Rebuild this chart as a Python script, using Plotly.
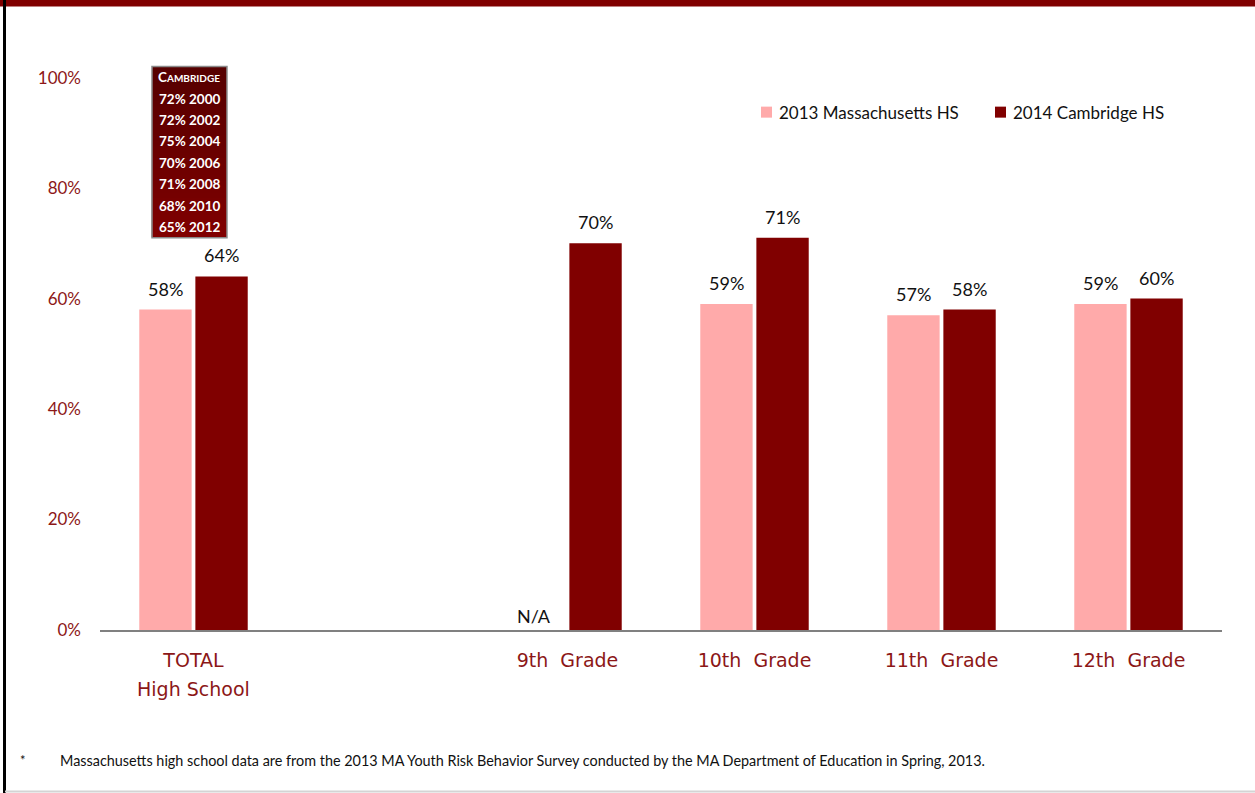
import plotly.graph_objects as go

# Grade groups (position 1 is left empty as a spacer after the total)
group_labels = ["TOTAL", "9th  Grade", "10th  Grade", "11th  Grade", "12th  Grade"]
group_pos = [0, 2, 3, 4, 5]

ma_2013 = [58, None, 59, 57, 59]          # 2013 Massachusetts HS (%)
cam_2014 = [64, 70, 71, 58, 60]           # 2014 Cambridge HS (%)
series_names = ["2013 Massachusetts HS", "2014 Cambridge HS"]

# Earlier Cambridge totals shown in the inset box
hist_years = [2000, 2002, 2004, 2006, 2008, 2010, 2012]
hist_vals = [72, 72, 75, 70, 71, 68, 65]

PINK = "#FFAAAA"
MAROON = "#800000"
TICK_RED = "#8C1717"
FONT = "Lato"

BAR_W = 0.28
OFF_MA = -0.29
OFF_CAM = 0.01

W, H = 1255, 793
Y_MAX = 105
ML, MR, MB = 100, 33, 163
MT = (H - MB) - 5.52 * Y_MAX
PW, PH = W - ML - MR, H - MT - MB


def px_x(p):
    return (p - ML) / PW


def px_y(p):
    return (H - MB - p) / PH


fig = go.Figure()
for vals, name, color, off in ((ma_2013, series_names[0], PINK, OFF_MA),
                               (cam_2014, series_names[1], MAROON, OFF_CAM)):
    fig.add_trace(go.Bar(
        x=group_pos, y=vals, name=name,
        marker=dict(color=color, line=dict(width=0)),
        width=BAR_W, offset=off, hovertemplate="%{y}%<extra>" + name + "</extra>",
        showlegend=False,
    ))

annotations = []
# value labels above the bars
for series, off in ((ma_2013, OFF_MA), (cam_2014, OFF_CAM)):
    for xp, v in zip(group_pos, series):
        if v is None:
            annotations.append(dict(
                x=xp + off + BAR_W / 2, y=0, xref="x", yref="y", text="N/A",
                showarrow=False, yanchor="bottom", yshift=1, xshift=-5,
                font=dict(family=FONT, size=18, color="#111111"),
            ))
        else:
            annotations.append(dict(
                x=xp + off + BAR_W / 2, y=v, xref="x", yref="y", text=f"{v}%",
                showarrow=False, yanchor="bottom", yshift=8,
                font=dict(family=FONT, size=18, color="#111111"),
            ))

# second line of the first category label
annotations.append(dict(
    x=group_pos[0], y=px_y(689), xref="x", yref="paper", text="High School",
    showarrow=False, yanchor="middle",
    font=dict(family="DejaVu Sans", size=19, color=TICK_RED),
))

shapes = []
# inset box with a dark-to-maroon vertical gradient
box_x0, box_x1 = -0.222, 0.179
box_y0, box_y1 = 71.0, 102.0
n_strips = 30
for i in range(n_strips):
    t = i / (n_strips - 1)
    r = int(0x56 + (0x80 - 0x56) * t)
    y_top = box_y1 - (box_y1 - box_y0) * i / n_strips
    shapes.append(dict(
        type="rect", xref="x", yref="y", x0=box_x0, x1=box_x1,
        y0=box_y0, y1=y_top, fillcolor=f"rgb({r},0,0)",
        line=dict(width=0), layer="above",
    ))
shapes.append(dict(
    type="rect", xref="x", yref="y", x0=box_x0, x1=box_x1, y0=box_y0, y1=box_y1,
    fillcolor="rgba(0,0,0,0)", line=dict(color="#8a8a8a", width=1.5), layer="above",
))

box_cx = (box_x0 + box_x1) / 2
box_lines = ["C<span style=\"font-size:10px\">AMBRIDGE</span>"] + [
    f"{v}% {yr}" for v, yr in zip(hist_vals, hist_years)
]
line_step = (box_y1 - box_y0) / len(box_lines)
for i, txt in enumerate(box_lines):
    annotations.append(dict(
        x=box_cx, y=box_y1 - line_step * (i + 0.5), xref="x", yref="y",
        text=f"<b>{txt}</b>", showarrow=False,
        font=dict(family=FONT, size=13.5, color="white"),
    ))

# legend drawn as swatches + labels
legend_items = [(761, PINK, series_names[0]), (995, MAROON, series_names[1])]
for x_px, color, label in legend_items:
    shapes.append(dict(type="rect", xref="paper", yref="paper",
                       x0=px_x(x_px), x1=px_x(x_px + 11), y0=px_y(118), y1=px_y(107),
                       fillcolor=color, line=dict(width=0)))
    annotations.append(dict(
        x=px_x(x_px + 16), y=px_y(112.5), xref="paper", yref="paper", text=label,
        showarrow=False, xanchor="left", yanchor="middle",
        font=dict(family=FONT, size=17, color="#111111"),
    ))

# footnote
annotations.append(dict(
    x=px_x(18), y=px_y(760), xref="paper", yref="paper", text="*", showarrow=False,
    xanchor="left", yanchor="middle", font=dict(family=FONT, size=13, color="#111111"),
))
annotations.append(dict(
    x=px_x(58), y=px_y(760), xref="paper", yref="paper",
    text="Massachusetts high school data are from the 2013 MA Youth Risk Behavior Survey "
         "conducted by the MA Department of Education in Spring, 2013.",
    showarrow=False, xanchor="left", yanchor="middle",
    font=dict(family=FONT, size=14.4, color="#111111"),
))

# page frame: maroon top band, black left rule, grey bottom rule
shapes.append(dict(type="rect", xref="paper", yref="paper", x0=px_x(0), x1=px_x(W),
                   y0=px_y(7), y1=px_y(-2), fillcolor=MAROON, line=dict(width=0)))
shapes.append(dict(type="rect", xref="paper", yref="paper", x0=px_x(3), x1=px_x(6),
                   y0=px_y(H + 2), y1=px_y(-2), fillcolor="black", line=dict(width=0)))
shapes.append(dict(type="line", xref="paper", yref="paper", x0=px_x(5), x1=px_x(W),
                   y0=px_y(791.5), y1=px_y(791.5), line=dict(color="#d4d4d4", width=2)))

fig.update_layout(
    width=W, height=H,
    margin=dict(l=ML, r=MR, t=MT, b=MB, pad=0),
    paper_bgcolor="white", plot_bgcolor="white",
    font=dict(family=FONT),
    barmode="overlay",
    showlegend=False,
    xaxis=dict(
        range=[-0.5, 5.5], tickmode="array", tickvals=group_pos, ticktext=group_labels,
        showline=True, linecolor="#808080", linewidth=1.5, showgrid=False, zeroline=False,
        ticks="", ticklabelstandoff=12,
        tickfont=dict(family="DejaVu Sans", size=19, color=TICK_RED),
    ),
    yaxis=dict(
        range=[0, Y_MAX], tickmode="array", tickvals=[0, 20, 40, 60, 80, 100],
        ticktext=["0%", "20%", "40%", "60%", "80%", "100%"],
        showline=False, showgrid=False, zeroline=False, ticks="",
        ticklabelstandoff=18,
        tickfont=dict(family=FONT, size=17, color=TICK_RED),
    ),
    annotations=annotations,
    shapes=shapes,
)

fig.write_html("out.html")
